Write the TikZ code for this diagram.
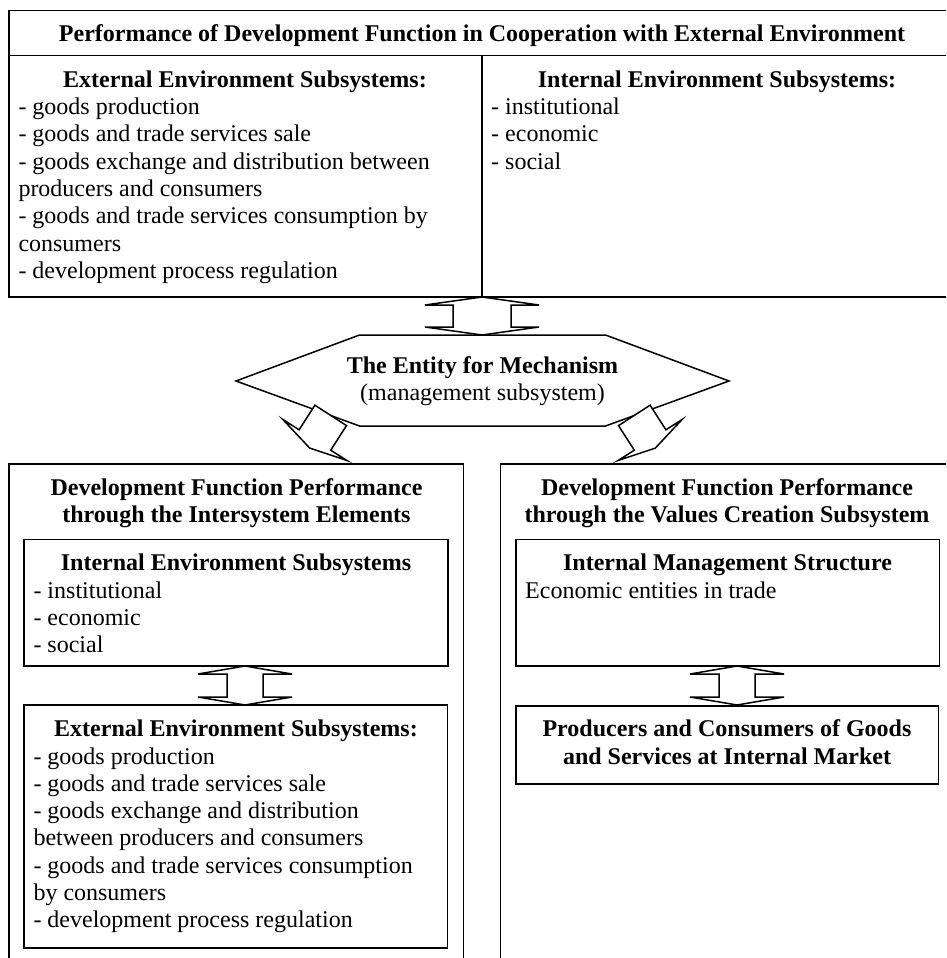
\documentclass[tikz,border=0pt]{standalone}
\usepackage{fontspec}
\setmainfont{Liberation Serif}
\begin{document}
\begin{tikzpicture}[x=1pt,y=-1pt,
  box/.style={draw, line width=1.5pt},
  txt/.style={inner sep=0pt, font=\fontsize{24}{27.3}\selectfont, anchor=base west},
  hdr/.style={inner sep=0pt, font=\fontsize{24}{27.3}\selectfont\bfseries, anchor=base},
  sub/.style={inner sep=0pt, font=\fontsize{24}{27.3}\selectfont, anchor=base},
  blockarrow/.style={draw, line width=1.5pt, fill=white, line join=miter}]
\clip (0,0) rectangle (946,958);
% ---------- top box ----------
\draw[box] (9,10.7) rectangle (975,297);
\draw[box] (9,55.7) -- (975,55.7);
\draw[box] (482,55.7) -- (482,297);
\node[hdr] (title) at (482,41.7) {Performance of Development Function in Cooperation with External Environment};
\node[hdr] (h1) at (245,87.3) {External Environment Subsystems:};
\foreach \t [count=\i] in {{- goods production},{- goods and trade services sale},{- goods exchange and distribution between},{producers and consumers},{- goods and trade services consumption by},{consumers},{- development process regulation}}
  \node[txt] (ta\i) at (18.3,{87.3+\i*27.3}) {\t};
\node[hdr] (h2) at (717,87.3) {Internal Environment Subsystems:};
\foreach \t [count=\i] in {{- institutional},{- economic},{- social}}
  \node[txt] (tb\i) at (491,{87.3+\i*27.3}) {\t};
% ---------- double arrow top ----------
\draw[blockarrow] (482,297) -- (539,305) -- (511,305) -- (511,327) -- (539,327) -- (482,335) -- (425,327) -- (453,327) -- (453,305) -- (425,305) -- cycle;
% ---------- hexagon ----------
\draw[blockarrow] (359.5,335) -- (605.5,335) -- (729,381) -- (605.5,426) -- (359.5,426) -- (236,381) -- cycle;
\node[hdr] (ent1) at (482.5,373) {The Entity for Mechanism};
\node[sub] (ent2) at (482.5,400.3) {(management subsystem)};
% ---------- lower block arrows ----------
\draw[blockarrow] (314.9,405.2) -- (299.1,429.8) -- (282.9,419.5) -- (309.7,448.1) -- (346.9,460.5) -- (330.7,450.2) -- (346.5,425.6) -- cycle;
\draw[blockarrow] (650.1,405.2) -- (665.9,429.8) -- (682.1,419.5) -- (655.3,448.1) -- (618.1,460.5) -- (634.3,450.2) -- (618.5,425.6) -- cycle;
% ---------- lower left ----------
\draw[box] (9,464) rectangle (463.5,990);
\node[hdr] (h3a) at (236.5,495) {Development Function Performance};
\node[hdr] (h3b) at (236.5,522.3) {through the Intersystem Elements};
\draw[box] (24,539.3) rectangle (448,666);
\node[hdr] (h4) at (236,570.7) {Internal Environment Subsystems};
\foreach \t [count=\i] in {{- institutional},{- economic},{- social}}
  \node[txt] (tc\i) at (33.3,{570.7+\i*27.3}) {\t};
\draw[blockarrow] (245,666) -- (292,674) -- (263,674) -- (263,697) -- (292,697) -- (245,705) -- (198,697) -- (227,697) -- (227,674) -- (198,674) -- cycle;
\draw[box] (24,705) rectangle (447.5,948);
\node[hdr] (h5) at (236,736.7) {External Environment Subsystems:};
\foreach \t [count=\i] in {{- goods production},{- goods and trade services sale},{- goods exchange and distribution},{between producers and consumers},{- goods and trade services consumption},{by consumers},{- development process regulation}}
  \node[txt] (td\i) at (33.3,{736.7+\i*27.3}) {\t};
% ---------- lower right ----------
\draw[box] (500.5,464) rectangle (975,990);
\node[hdr] (h6a) at (727,495) {Development Function Performance};
\node[hdr] (h6b) at (727,522.3) {through the Values Creation Subsystem};
\draw[box] (516,539.3) rectangle (939.3,666);
\node[hdr] (h7) at (727.5,570.7) {Internal Management Structure};
\node[txt] (te1) at (525,598) {Economic entities in trade};
\draw[blockarrow] (737,666) -- (784,674) -- (755,674) -- (755,697) -- (784,697) -- (737,705) -- (690,697) -- (719,697) -- (719,674) -- (690,674) -- cycle;
\draw[box] (516,706) rectangle (938.3,784);
\node[hdr] (h8a) at (727,736.7) {Producers and Consumers of Goods};
\node[hdr] (h8b) at (727,764) {and Services at Internal Market};
\end{tikzpicture}
\end{document}
